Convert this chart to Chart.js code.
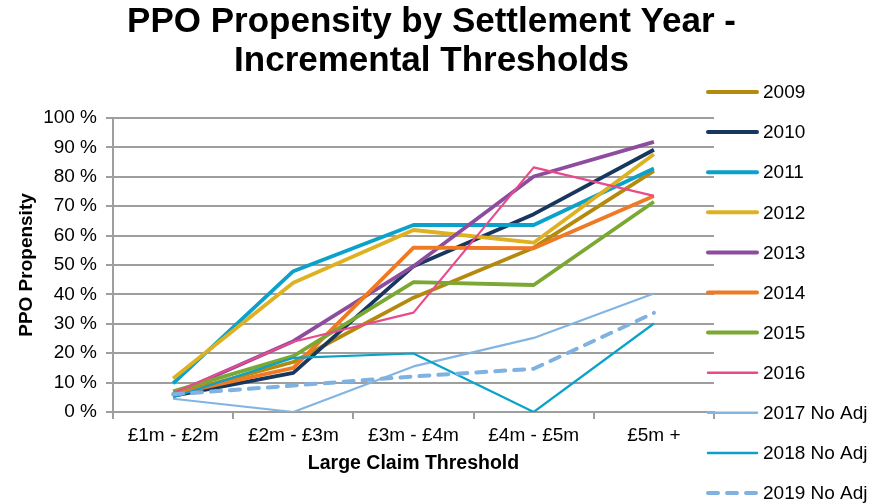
<!DOCTYPE html>
<html>
<head>
<meta charset="utf-8">
<script src="https://cdn.jsdelivr.net/npm/chart.js@4.4.1/dist/chart.umd.min.js"></script>
<style>
  html, body { margin: 0; padding: 0; background: #fff; }
  #wrap { width: 882px; height: 503px; position: relative; }
</style>
</head>
<body>
<div id="wrap"><canvas id="ppoChart"></canvas></div>
<script>
// Data (PPO propensity, %)
const thresholds = ['£1m - £2m', '£2m - £3m', '£3m - £4m', '£4m - £5m', '£5m +'];
const seriesNames = ['2009', '2010', '2011', '2012', '2013', '2014', '2015', '2016', '2017 No Adj', '2018 No Adj', '2019 No Adj'];
const y2009 = [6, 17, 38.9, 55.9, 82];
const y2010 = [5.5, 13.3, 49.6, 67.3, 89.2];
const y2011 = [9.7, 47.9, 63.6, 63.6, 82.8];
const y2012 = [11.4, 44, 61.9, 57.6, 87.7];
const y2013 = [6, 24.1, 49.6, 80.1, 91.9];
const y2014 = [6, 15, 55.9, 55.7, 73.5];
const y2015 = [7, 19, 44.2, 43.2, 71.5];
const y2016 = [6.5, 23.9, 33.8, 83.2, 73.5];
const y2017 = [4.5, 0, 15.5, 25.2, 40.3];
const y2018 = [5, 18.4, 19.9, 0, 30.1];
const y2019 = [6, 9, 12.1, 14.7, 33.7];
const yTicks = [0, 10, 20, 30, 40, 50, 60, 70, 80, 90, 100];

const seriesValues = [y2009, y2010, y2011, y2012, y2013, y2014, y2015, y2016, y2017, y2018, y2019];
const colours = ['#B38A0E', '#17375E', '#0AA2CA', '#DEB120', '#8E4C9E', '#EE7A25', '#7BA832', '#E84A8B', '#83B5E3', '#0AA2C8', '#7FB2E0'];
const widths = [3.8, 3.8, 3.8, 3.8, 3.8, 3.8, 3.8, 2.2, 2.2, 2.2, 4];

Chart.defaults.font.family = '"Liberation Sans", Arial, sans-serif';
Chart.defaults.color = '#000';

const gridGrey = '#9e9e9e';

// title + legend drawn by hand so they sit where the reference has them
const sidePlugin = {
    id: 'sideLegend',
    afterDraw(chart) {
        const ctx = chart.ctx;
        ctx.save();
        ctx.fillStyle = '#000';
        ctx.textAlign = 'center';
        ctx.textBaseline = 'alphabetic';
        ctx.font = 'bold 35px "Liberation Sans", Arial, sans-serif';
        ctx.fillText('PPO Propensity by Settlement Year -', 431.5, 32);
        ctx.fillText('Incremental Thresholds', 431.5, 71);

        ctx.textAlign = 'left';
        ctx.textBaseline = 'middle';
        ctx.font = '19px "Liberation Sans", Arial, sans-serif';
        chart.data.datasets.forEach((ds, i) => {
            const y = 92 + i * 40.1;
            ctx.beginPath();
            ctx.strokeStyle = ds.borderColor;
            ctx.lineWidth = ds.borderWidth >= 3 ? 4 : 2.5;
            ctx.lineCap = 'round';
            ctx.setLineDash(ds.borderDash || []);
            ctx.moveTo(708, y);
            ctx.lineTo(757, y);
            ctx.stroke();
            ctx.setLineDash([]);
            ctx.fillText(ds.label, 763, y + 1);
        });
        ctx.restore();
    }
};

const ctx = document.getElementById('ppoChart').getContext('2d');
new Chart(ctx, {
    type: 'line',
    data: {
        labels: thresholds,
        datasets: seriesNames.map((name, i) => ({
            label: name,
            data: seriesValues[i],
            borderColor: colours[i],
            backgroundColor: colours[i],
            borderWidth: widths[i],
            borderDash: i === 10 ? [10, 9] : [],
            borderCapStyle: i === 10 ? 'round' : 'butt',
            borderJoinStyle: 'round',
            pointRadius: 0,
            tension: 0,
            order: seriesNames.length - i
        }))
    },
    options: {
        responsive: true,
        maintainAspectRatio: false,
        animation: false,
        layout: { padding: { top: 118, right: 168, bottom: 0, left: 0 } },
        plugins: {
            legend: { display: false },
            title: { display: false },
            tooltip: { enabled: false }
        },
        scales: {
            x: {
                offset: true,
                grid: { display: true, drawOnChartArea: false, offset: true, tickLength: 7, color: gridGrey, lineWidth: 2 },
                border: { color: gridGrey, width: 2 },
                ticks: { font: { size: 19 }, padding: 5, maxRotation: 0 },
                title: {
                    display: true,
                    text: 'Large Claim Threshold',
                    font: { size: 19.5, weight: 'bold' },
                    padding: { top: 4, bottom: 28 }
                },
                afterFit(scale) { scale.height = 91; }
            },
            y: {
                min: 0,
                max: 100,
                afterBuildTicks(scale) { scale.ticks = yTicks.map(v => ({ value: v })); },
                grid: { color: gridGrey, lineWidth: 2, tickLength: 7 },
                border: { color: gridGrey, width: 2 },
                ticks: { font: { size: 19 }, padding: 9, callback: v => v + ' %' },
                title: {
                    display: true,
                    text: 'PPO Propensity',
                    font: { size: 19, weight: 'bold' },
                    padding: { top: 15, bottom: 4 }
                },
                afterFit(scale) { scale.width = 113; }
            }
        }
    },
    plugins: [sidePlugin]
});
</script>
</body>
</html>
